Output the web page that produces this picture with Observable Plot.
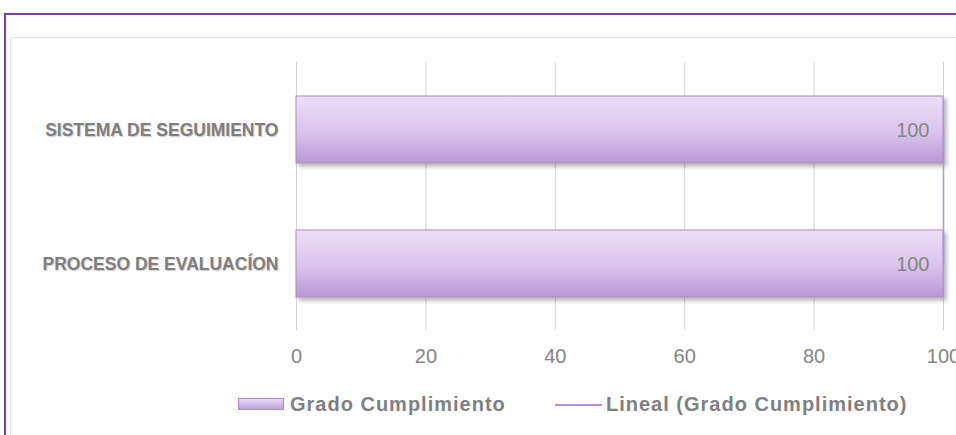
<!DOCTYPE html>
<html>
<head>
<meta charset="utf-8">
<script src="https://cdn.jsdelivr.net/npm/d3@7"></script>
<script src="https://cdn.jsdelivr.net/npm/@observablehq/plot@0.6"></script>
<style>
  html, body { margin: 0; padding: 0; background: #fff; }
  #wrap { position: relative; width: 956px; height: 435px; overflow: hidden; background: #fff; }
  #outer { position: absolute; left: 4px; top: 13px; width: 1200px; height: 600px; border-left: 2px solid #7a3db2; border-top: 2px solid #7a3db2; box-sizing: border-box; }
  #inner { position: absolute; left: 10px; top: 37px; width: 1200px; height: 600px; border-left: 1px solid #e3e3e3; border-top: 1px solid #e3e3e3; box-sizing: border-box; }
  #chart { position: absolute; left: 0; top: 0; }
  #legend { position: absolute; left: 0; top: 392px; width: 956px; height: 30px; font-family: "Liberation Sans", Arial, sans-serif; font-weight: bold; font-size: 20px; color: #7f7f7f; letter-spacing: 1px; }
  .sw { position: absolute; }
  .lt { position: absolute; top: 1px; white-space: nowrap; }
</style>
</head>
<body>
<div id="wrap">
  <div id="outer"></div>
  <div id="inner"></div>
  <div id="chart"></div>
  <div id="legend">
    <div class="sw" style="left:238px; top:6px; width:46px; height:12px; box-sizing:border-box; border:1px solid #a98bc8; background:linear-gradient(#eadcf6,#bfa0da);"></div>
    <div class="lt" style="left:290px;">Grado Cumplimiento</div>
    <div class="sw" style="left:555px; top:12px; width:47px; height:2px; background:#b890d8;"></div>
    <div class="lt" style="left:606px;">Lineal (Grado Cumplimiento)</div>
  </div>
</div>
<script>
const categories = ["SISTEMA DE SEGUIMIENTO", "PROCESO DE EVALUACÍON"];
const values = [100, 100];
const xTicks = [0, 20, 40, 60, 80, 100];
const seriesName = "Grado Cumplimiento";
const trendName = "Lineal (Grado Cumplimiento)";

const data = categories.map((c, i) => ({category: c, value: values[i]}));

const plot = Plot.plot({
  width: 956,
  height: 380,
  marginLeft: 296,
  marginRight: 13,
  marginTop: 62,
  marginBottom: 50,
  style: {background: "transparent", overflow: "visible"},
  x: {domain: [0, 100], ticks: xTicks, label: null},
  y: {domain: categories, label: null, paddingInner: 0.5, paddingOuter: 0.25},
  marks: [
    Plot.gridX(xTicks, {stroke: "#d4d4d4", strokeOpacity: 1, strokeWidth: 1}),
    Plot.barX(data, {y: "category", x: "value", fill: "url(#barGrad)", stroke: "#a98bc8", strokeWidth: 1}),
    Plot.lineY(data, {x: "value", y: "category", stroke: "#b890d8", strokeWidth: 1.5}),
    Plot.text(data, {y: "category", x: "value", text: d => String(d.value), textAnchor: "end", dx: -14, dy: 1, fill: "#858585", fontSize: 20, fontFamily: "Liberation Sans, Arial, sans-serif"}),
    Plot.axisX(xTicks, {tickSize: 0, tickPadding: 18, fontSize: 20, fill: "#858585", fontFamily: "Liberation Sans, Arial, sans-serif"}),
    Plot.axisY({tickSize: 0, tickPadding: 18, fontSize: 17.5, fontWeight: "bold", fill: "#7f7f7f", fontFamily: "Liberation Sans, Arial, sans-serif"})
  ]
});

const svg = d3.select(plot);
const defs = svg.insert("defs", ":first-child");
const g = defs.append("linearGradient").attr("id", "barGrad").attr("x1", 0).attr("y1", 0).attr("x2", 0).attr("y2", 1);
g.append("stop").attr("offset", "0%").attr("stop-color", "#ecdff7");
g.append("stop").attr("offset", "55%").attr("stop-color", "#d9c3ec");
g.append("stop").attr("offset", "100%").attr("stop-color", "#b899d3");
const f = defs.append("filter").attr("id", "shadow").attr("x", "-5%").attr("y", "-20%").attr("width", "115%").attr("height", "150%");
f.append("feDropShadow").attr("dx", 3).attr("dy", 3).attr("stdDeviation", 2).attr("flood-color", "#000").attr("flood-opacity", 0.3);
svg.selectAll("rect").filter(function(){ return d3.select(this).attr("fill") === "url(#barGrad)" || this.parentNode.getAttribute("fill") === "url(#barGrad)"; }).attr("filter", "url(#shadow)");
svg.selectAll("g[aria-label='y-axis tick label'] text").style("text-shadow", "1px 1px 1px rgba(0,0,0,0.2)");

document.getElementById("chart").appendChild(plot);
</script>
</body>
</html>
